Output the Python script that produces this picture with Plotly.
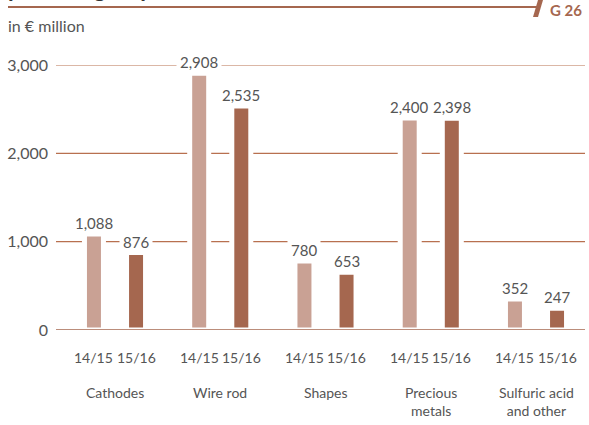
import plotly.graph_objects as go

# Revenues by product group, in € million
categories = ["Cathodes", "Wire rod", "Shapes", "Precious<br>metals", "Sulfuric acid<br>and other"]
periods = ["14/15", "15/16"]
values_1415 = [1088, 2908, 780, 2400, 352]
values_1516 = [876, 2535, 653, 2398, 247]
y_ticks = [0, 1000, 2000, 3000]
y_ticktext = ["0", "1,000", "2,000", "3,000"]

W, H = 589, 425
L, R, T, B = 56, 4, 65, 95
PW, PH = W - L - R, H - T - B

LIGHT = "#c9a194"
DARK = "#a5674f"
GRID = "#b8704f"
TEXT = "#555555"
FONT = "Lato"
LABEL_FONT = dict(family=FONT, size=15, color=TEXT)
AXIS_FONT = dict(family=FONT, size=14, color=TEXT)

OFFSET = 0.2      # bar offset from group centre
BAR_W = 0.1805    # bar width incl. white outline


def px(x):
    return (x - L) / PW


def py(y):
    return (H - B - y) / PH


fig = go.Figure()
idx = list(range(len(categories)))
for vals, color, sign in [(values_1415, LIGHT, -1), (values_1516, DARK, 1)]:
    fig.add_trace(go.Bar(
        x=[i + sign * OFFSET for i in idx],
        y=vals,
        width=BAR_W,
        marker=dict(color=color, line=dict(color="white", width=5)),
        hoverinfo="skip",
        showlegend=False,
    ))

annotations = []
# value labels above the bars (white box interrupts the grid line)
for vals, sign in [(values_1415, -1), (values_1516, 1)]:
    for i, v in zip(idx, vals):
        annotations.append(dict(
            x=i + sign * OFFSET, y=v, xref="x", yref="y",
            text=f"{v:,}", showarrow=False, yanchor="bottom", yshift=-2,
            font=LABEL_FONT, bgcolor="white", borderpad=3,
        ))
# period labels under each bar
for i in idx:
    for sign, p in zip((-1, 1), periods):
        annotations.append(dict(
            x=i + sign * OFFSET, y=0, xref="x", yref="paper",
            text=p, showarrow=False, yanchor="middle", yshift=-27,
            font=AXIS_FONT,
        ))
# category names
for i, c in zip(idx, categories):
    annotations.append(dict(
        x=i, y=0, xref="x", yref="paper",
        text=c, showarrow=False, yanchor="top", yshift=-52,
        font=AXIS_FONT,
    ))
# header: title, unit, chart number
annotations += [
    dict(x=px(6), y=py(-12), xref="paper", yref="paper", text="<b>product group</b>",
         showarrow=False, xanchor="left", yanchor="middle",
         font=dict(family=FONT, size=23, color="#333333")),
    dict(x=px(6), y=py(25), xref="paper", yref="paper", text="in € million",
         showarrow=False, xanchor="left", yanchor="middle",
         font=dict(family=FONT, size=16, color=TEXT)),
    dict(x=px(548), y=py(10), xref="paper", yref="paper", text="<b>G 26</b>",
         showarrow=False, xanchor="left", yanchor="middle",
         font=dict(family=FONT, size=15, color=DARK)),
]

shapes = []
# horizontal grid lines, under the bars
for t in y_ticks[1:]:
    shapes.append(dict(type="line", xref="paper", yref="y", x0=0, x1=1, y0=t, y1=t,
                       line=dict(color=GRID, width=1.2), layer="below"))
shapes += [
    # baseline drawn over the bar outlines
    dict(type="line", xref="paper", yref="y", x0=0, x1=1, y0=0, y1=0,
         line=dict(color=DARK, width=1.6), layer="above"),
    # header rule
    dict(type="line", xref="paper", yref="paper", x0=px(8), x1=px(538), y0=py(7), y1=py(7),
         line=dict(color=DARK, width=2)),
    # slash mark
    dict(type="path", xref="paper", yref="paper", fillcolor=DARK, line=dict(width=0),
         path=f"M {px(533)},{py(17)} L {px(538)},{py(17)} L {px(543)},{py(0)} "
              f"L {px(538)},{py(0)} Z"),
]

fig.update_layout(
    width=W, height=H,
    margin=dict(l=L, r=R, t=T, b=B),
    paper_bgcolor="white", plot_bgcolor="white",
    barmode="overlay",
    xaxis=dict(range=[-0.5606, 4.4656], showgrid=False, zeroline=False,
               showticklabels=False, fixedrange=True),
    yaxis=dict(range=[0, 3000], tickvals=y_ticks, ticktext=y_ticktext,
               showgrid=False, zeroline=False,
               ticks="", ticklabelstandoff=7,
               tickfont=dict(family=FONT, size=16, color=TEXT),
               fixedrange=True),
    annotations=annotations,
    shapes=shapes,
)

fig.write_html("out.html")
